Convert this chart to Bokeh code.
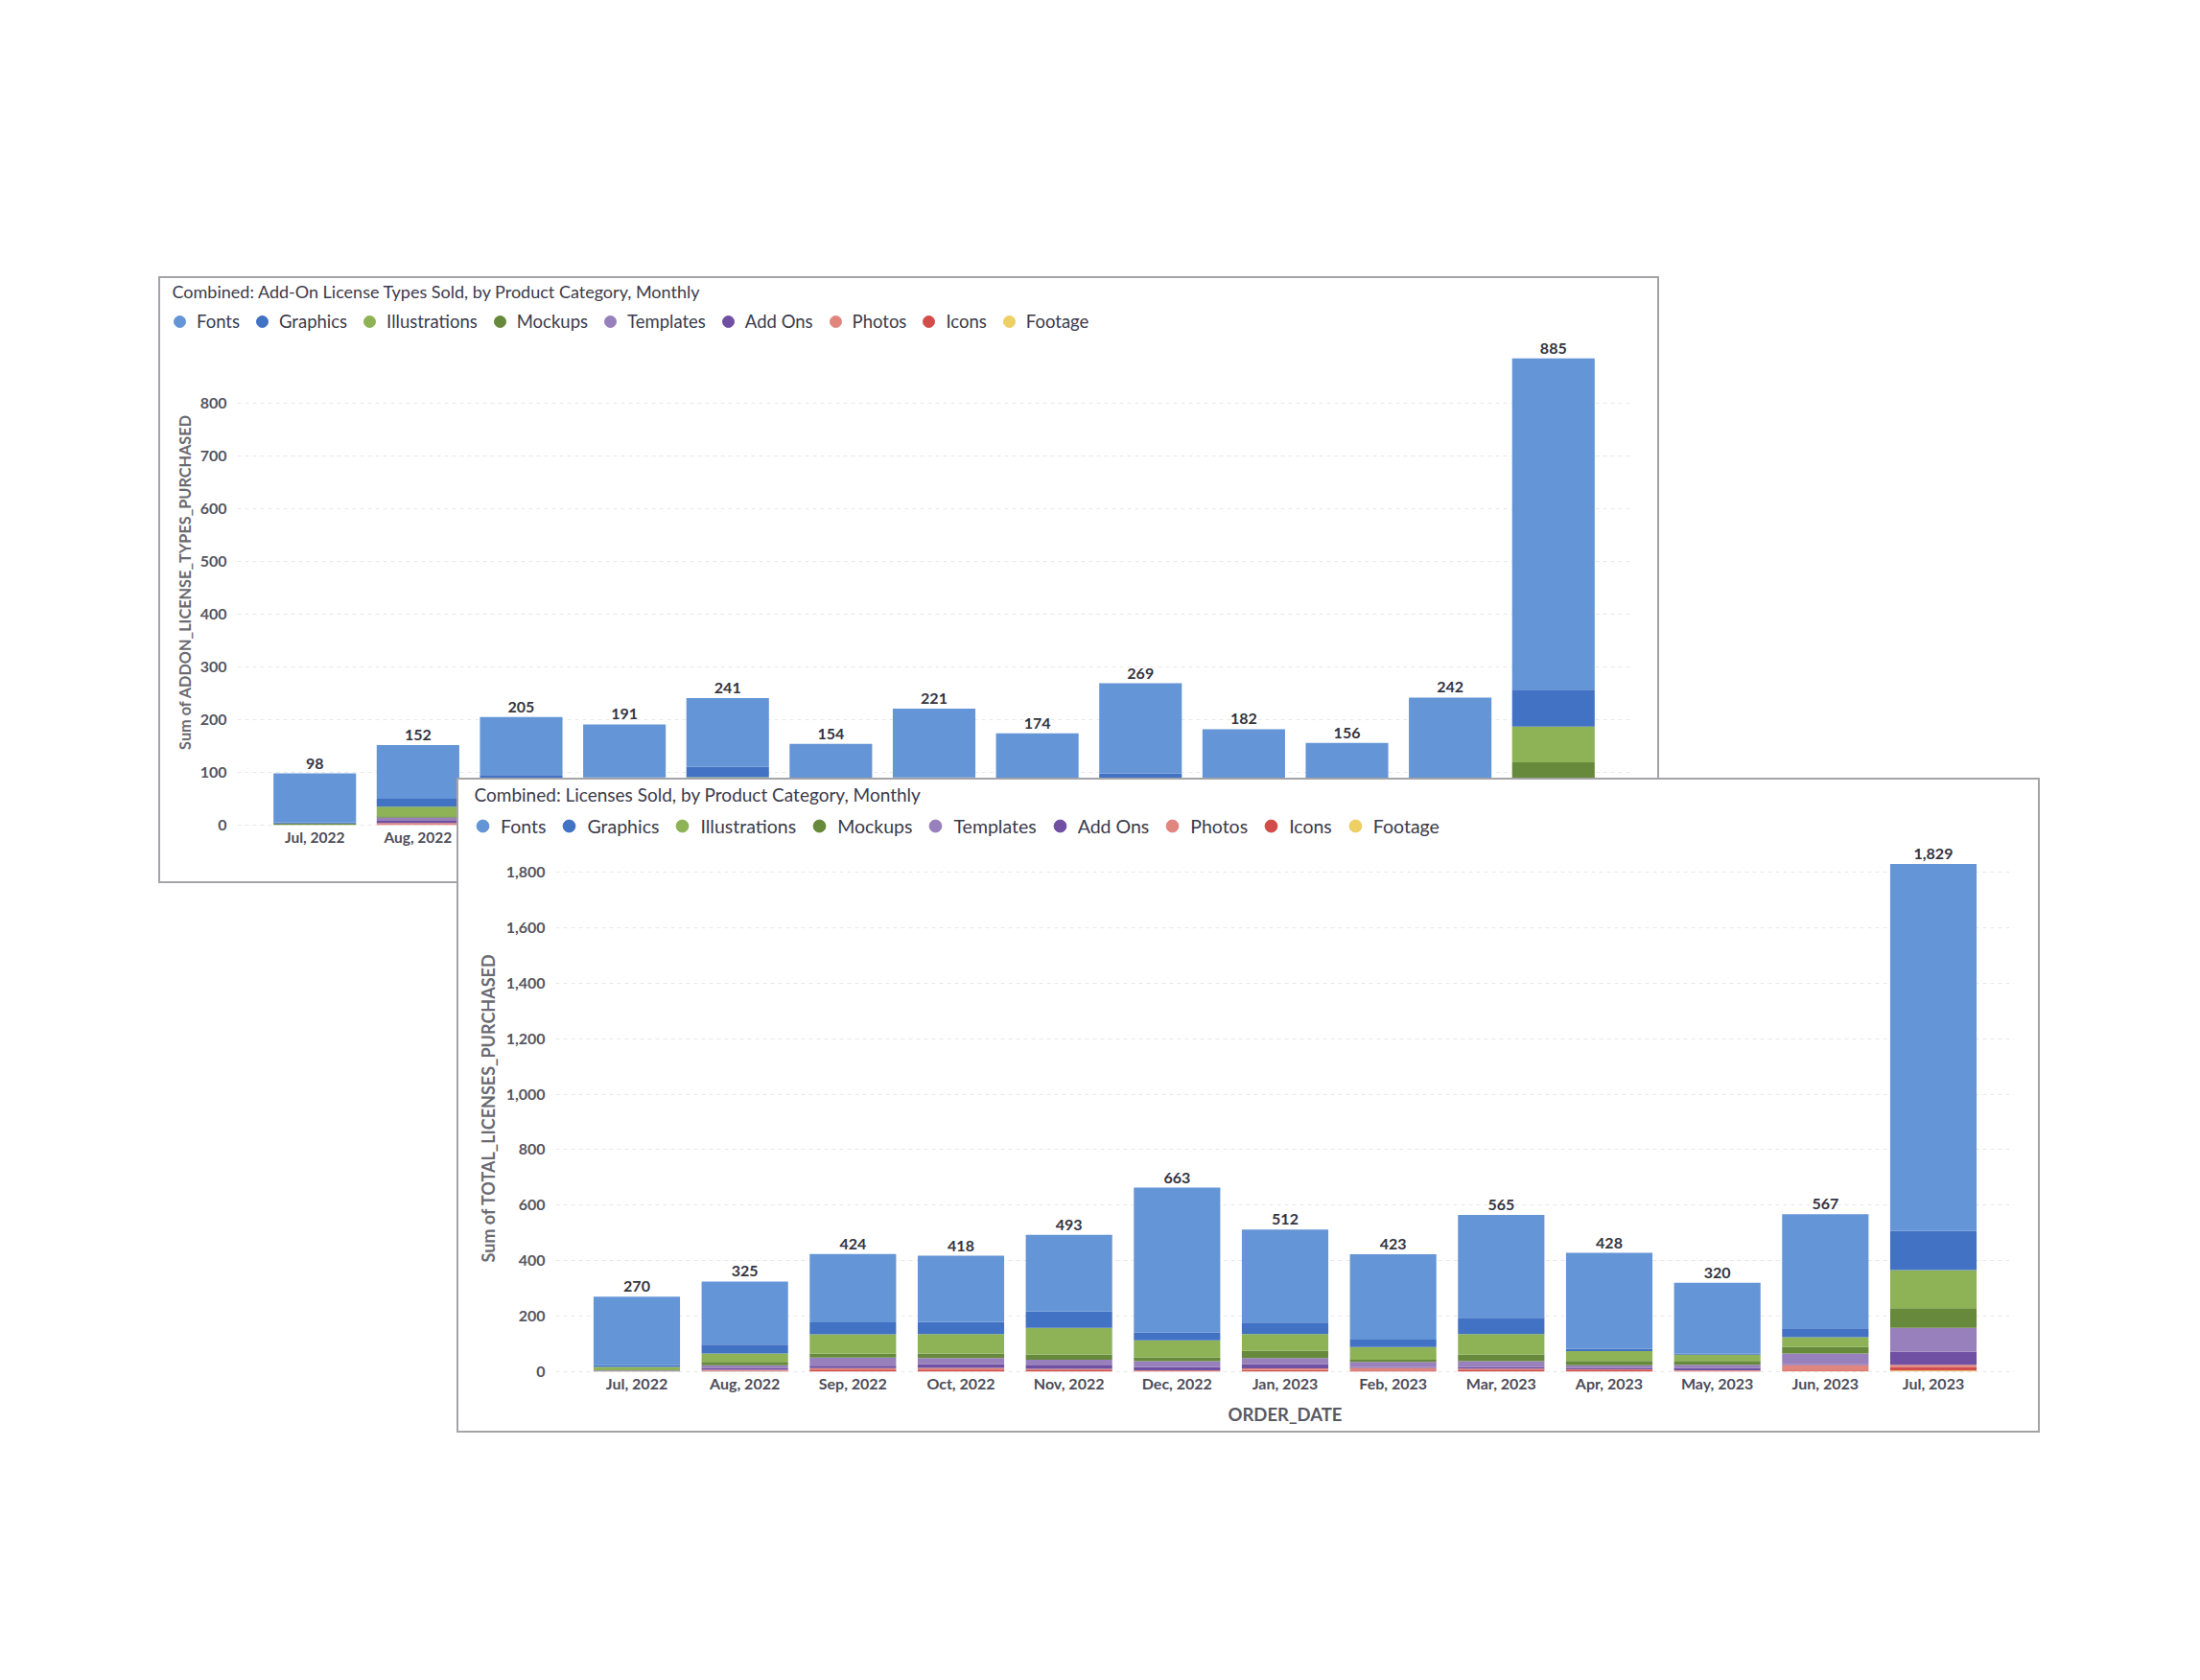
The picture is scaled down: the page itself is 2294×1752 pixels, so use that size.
from bokeh.plotting import figure
from bokeh.models import (ColumnDataSource, FactorRange, Range1d, FixedTicker,
                          NumeralTickFormatter, Legend, LegendItem, Label, Span)
from bokeh.layouts import column
from bokeh.embed import file_html
from bokeh.resources import INLINE

# ---------------- data ----------------
months = ["Jul, 2022", "Aug, 2022", "Sep, 2022", "Oct, 2022", "Nov, 2022", "Dec, 2022",
          "Jan, 2023", "Feb, 2023", "Mar, 2023", "Apr, 2023", "May, 2023", "Jun, 2023", "Jul, 2023"]
categories = ["Fonts", "Graphics", "Illustrations", "Mockups", "Templates",
              "Add Ons", "Photos", "Icons", "Footage"]
cat_colors = ["#6495d6", "#4272c4", "#8db356", "#67893b", "#9780bc",
              "#6f50a3", "#e0867e", "#d24d4a", "#edcf63"]

# Chart 1: Sum of ADDON_LICENSE_TYPES_PURCHASED
addon_fonts =         [93, 102, 110, 100, 130, 72, 130, 94, 171, 120, 100, 160, 628]
addon_graphics =      [2, 15, 10, 10, 20, 10, 12, 10, 25, 5, 3, 15, 70]
addon_illustrations = [0, 18, 35, 34, 45, 30, 32, 25, 35, 22, 18, 20, 68]
addon_mockups =       [3, 3, 8, 8, 9, 6, 12, 5, 12, 12, 12, 12, 30]
addon_templates =     [0, 6, 25, 22, 20, 20, 18, 20, 14, 12, 11, 18, 45]
addon_addons =        [0, 4, 10, 10, 10, 10, 10, 6, 4, 5, 7, 3, 25]
addon_photos =        [0, 3, 4, 4, 4, 3, 4, 10, 2, 3, 2, 10, 6]
addon_icons =         [0, 1, 3, 3, 3, 3, 3, 4, 6, 3, 3, 2, 10]
addon_footage =       [0, 0, 0, 0, 0, 0, 0, 0, 0, 0, 0, 2, 3]

# Chart 2: Sum of TOTAL_LICENSES_PURCHASED
lic_fonts =         [247, 227, 246, 239, 276, 522, 335, 307, 371, 345, 255, 411, 1321]
lic_graphics =      [6, 32, 43, 43, 59, 28, 41, 27, 58, 9, 4, 32, 142]
lic_illustrations = [12, 31, 70, 70, 97, 61, 61, 46, 75, 35, 22, 35, 137]
lic_mockups =       [1, 12, 14, 17, 18, 14, 26, 8, 23, 16, 14, 23, 71]
lic_templates =     [2, 9, 29, 21, 18, 22, 21, 18, 21, 9, 11, 38, 86]
lic_addons =        [1, 7, 9, 14, 15, 11, 16, 3, 6, 5, 9, 4, 47]
lic_photos =        [1, 4, 5, 6, 5, 3, 6, 10, 3, 4, 2, 19, 8]
lic_icons =         [0, 3, 8, 8, 5, 2, 6, 4, 8, 5, 3, 2, 13]
lic_footage =       [0, 0, 0, 0, 0, 0, 0, 0, 0, 0, 0, 3, 4]

addon_ticks = [0, 100, 200, 300, 400, 500, 600, 700, 800]
lic_ticks = [0, 200, 400, 600, 800, 1000, 1200, 1400, 1600, 1800]

title1 = "Combined: Add-On License Types Sold, by Product Category, Monthly"
title2 = "Combined: Licenses Sold, by Product Category, Monthly"

FONT = "Lato"
TXT = "#3b3b4b"
BORDER = "2px solid #a4a4a8"


def no_title(p):
    try:
        p.title = None
    except Exception:
        p.title.visible = False


def make_header(title, w, h, title_xy, title_size, leg_xy, leg_size, glyph, spacing):
    p = figure(width=w, height=h, x_range=Range1d(0, 1), y_range=Range1d(0, 1),
               x_axis_location=None, y_axis_location=None,
               output_backend="svg", toolbar_location=None,
               min_border_left=0, min_border_right=0, min_border_top=0, min_border_bottom=0)
    no_title(p)
    p.frame_align = False
    p.grid.visible = False
    p.outline_line_color = None
    p.border_fill_color = "white"
    p.background_fill_color = "white"
    items = []
    for c, col in zip(categories, cat_colors):
        # off-range point: only the legend marker of this renderer is shown
        r = p.scatter(x=[-5], y=[-5], marker="circle", size=12, color=col)
        items.append(LegendItem(label=c, renderers=[r]))
    leg = Legend(items=items, orientation="horizontal", location=leg_xy,
                 glyph_width=glyph, glyph_height=glyph, label_standoff=3, spacing=spacing,
                 padding=0, margin=0, border_line_color=None, background_fill_alpha=0,
                 label_text_font=FONT, label_text_font_size=leg_size,
                 label_text_color=TXT, label_height=glyph)
    p.add_layout(leg, "center")
    p.add_layout(Label(x=title_xy[0], y=title_xy[1], x_units="screen", y_units="screen",
                       text=title, text_font=FONT, text_font_size=title_size,
                       text_color=TXT, text_baseline="middle", text_align="left"))
    p.styles = {"border": BORDER, "border-bottom": "none", "background-color": "white"}
    return p


def make_chart(series, ytitle, xtitle, ticks, ymax, w, h, mb, lab_std, ytitle_size,
               xlab_size, xstd, xlab_std):
    data = {"month": months}
    for c, s in zip(categories, series):
        data[c] = s
    totals = [sum(v) for v in zip(*series)]
    data["total"] = totals
    data["total_txt"] = [f"{t:,}" for t in totals]
    src = ColumnDataSource(data)

    p = figure(x_range=FactorRange(*months, range_padding=0.25, range_padding_units="absolute"),
               y_range=Range1d(0, ymax), width=w, height=h,
               output_backend="svg", toolbar_location=None,
               min_border_left=mb[0], min_border_right=mb[1],
               min_border_top=mb[2], min_border_bottom=mb[3])
    no_title(p)
    p.frame_align = False
    p.outline_line_color = None
    p.background_fill_color = "white"
    p.border_fill_color = "white"

    p.vbar_stack(list(reversed(categories)), x="month", width=0.8,
                 color=list(reversed(cat_colors)), source=src, line_color=None)

    p.text(x="month", y="total", text="total_txt", source=src, text_align="center",
           text_baseline="bottom", y_offset=-5, text_font={"value": FONT},
           text_font_size="16px", text_font_style="bold", text_color="#34343f")

    # y axis
    p.yaxis.ticker = FixedTicker(ticks=ticks)
    p.yaxis.formatter = NumeralTickFormatter(format="0,0")
    p.yaxis.axis_line_color = None
    p.yaxis.major_tick_line_color = None
    p.yaxis.minor_tick_line_color = None
    p.yaxis.major_tick_out = 0
    p.yaxis.major_label_standoff = 11
    p.yaxis.major_label_text_font = FONT
    p.yaxis.major_label_text_font_size = "16px"
    p.yaxis.major_label_text_font_style = "bold"
    p.yaxis.major_label_text_color = "#55555f"
    p.yaxis.axis_label = ytitle
    p.yaxis.axis_label_text_font = FONT
    p.yaxis.axis_label_text_font_size = ytitle_size
    p.yaxis.axis_label_text_font_style = "bold"
    p.yaxis.axis_label_text_color = "#6a6a72"
    p.yaxis.axis_label_standoff = lab_std

    # x axis
    p.xaxis.axis_line_color = None
    p.xaxis.major_tick_line_color = None
    p.xaxis.minor_tick_line_color = None
    p.xaxis.major_tick_out = 0
    p.xaxis.major_label_standoff = xstd
    p.xaxis.major_label_text_font = FONT
    p.xaxis.major_label_text_font_size = xlab_size
    p.xaxis.major_label_text_font_style = "bold"
    p.xaxis.major_label_text_color = "#4d4d5a"
    if xtitle:
        p.xaxis.axis_label = xtitle
        p.xaxis.axis_label_text_font = FONT
        p.xaxis.axis_label_text_font_size = "18.5px"
        p.xaxis.axis_label_text_font_style = "bold"
        p.xaxis.axis_label_text_color = "#5a5a62"
        p.xaxis.axis_label_standoff = xlab_std

    p.xgrid.grid_line_color = None
    p.ygrid.grid_line_color = "#e8e8ea"
    p.ygrid.grid_line_dash = "4 4"
    p.add_layout(Span(location=0, dimension="width", line_color="#cdcdd2",
                      line_dash="4 4", line_width=1))

    p.styles = {"border": BORDER, "border-top": "none", "background-color": "white"}
    return p


# ---- top panel: 1565 x 633 at (165, 288) ----
h1 = make_header(title1, 1565, 65, (12, 52), "18px", (5, 5), "18.5px", 30, 8)
h1.margin = (288, 0, 0, 165)
p1 = make_chart([addon_fonts, addon_graphics, addon_illustrations, addon_mockups,
                 addon_templates, addon_addons, addon_photos, addon_icons, addon_footage],
                "Sum of ADDON_LICENSE_TYPES_PURCHASED", None, addon_ticks, 922,
                1565, 568, (80, 32, 0, 61), 4, "16.3px", "15.5px", 3, 0)
p1.margin = (0, 0, 0, 165)

# ---- bottom panel: 1651 x 683 at (476, 811) ----
h2 = make_header(title2, 1651, 69, (16, 54), "19px", (9, 5), "19.5px", 32, 8)
h2.margin = (-110, 0, 0, 476)
p2 = make_chart([lic_fonts, lic_graphics, lic_illustrations, lic_mockups,
                 lic_templates, lic_addons, lic_photos, lic_icons, lic_footage],
                "Sum of TOTAL_LICENSES_PURCHASED", "ORDER_DATE", lic_ticks, 1900,
                1651, 614, (101, 29, 0, 64), 5, "18px", "16px", 2, 9)
p2.margin = (0, 0, 0, 476)

layout = column(h1, p1, h2, p2)
layout.styles = {"background-color": "white"}

open("out.html", "w").write(file_html(layout, INLINE))
